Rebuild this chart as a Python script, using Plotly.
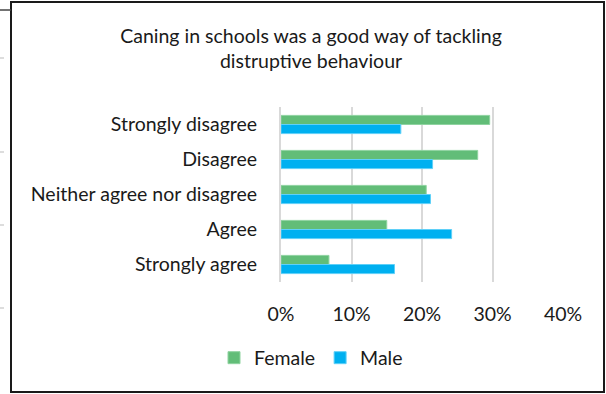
import plotly.graph_objects as go

categories = ["Strongly disagree", "Disagree", "Neither agree nor disagree", "Agree", "Strongly agree"]
female = [0.296, 0.279, 0.206, 0.150, 0.068]
male = [0.170, 0.215, 0.212, 0.242, 0.161]
tick_vals = [0, 0.1, 0.2, 0.3, 0.4]
tick_text = ["0%", "10%", "20%", "30%", "40%"]

FONT = "Lato"
FS = 19.5
L, R, T, B = 281, 43, 107, 112
W, H = 606, 394
pw, ph = W - L - R, H - T - B

def px(x):
    return (x - L) / pw

def py(y):
    return (H - B - y) / ph

fig = go.Figure()
fig.add_trace(go.Bar(y=categories, x=female, orientation="h", name="Female",
                     marker=dict(color="#62BD78", line=dict(color="#8FD3A0", width=1))))
fig.add_trace(go.Bar(y=categories, x=male, orientation="h", name="Male",
                     marker=dict(color="#00B0F0", line=dict(color="#5FD0F8", width=1))))

shapes = [
    dict(type="rect", xref="paper", yref="paper", x0=px(11), x1=px(604), y0=py(392), y1=py(2),
         line=dict(color="#1a1a1a", width=2)),
    dict(type="line", xref="paper", yref="paper", x0=px(0), x1=px(11), y0=py(10), y1=py(10),
         line=dict(color="#444444", width=1.5)),
]
for yy in [58, 152, 225, 308]:
    shapes.append(dict(type="line", xref="paper", yref="paper", x0=px(0), x1=px(4), y0=py(yy), y1=py(yy),
                       line=dict(color="#bbbbbb", width=1)))

fig.update_layout(
    width=W, height=H,
    margin=dict(l=L, r=R, t=T, b=B),
    paper_bgcolor="white", plot_bgcolor="white",
    barmode="group", bargap=0.48, bargroupgap=0,
    font=dict(family=FONT, size=FS, color="#1a1a1a"),
    title=dict(text="Caning in schools was a good way of tackling<br>distruptive behaviour",
               x=px(311), xref="paper", xanchor="center", y=1 - 43 / H, yanchor="top",
               font=dict(family=FONT, size=FS, color="#1a1a1a")),
    xaxis=dict(range=[0, 0.4], tickvals=tick_vals, ticktext=tick_text, showgrid=True,
               gridcolor="#d9d9d9", gridwidth=2, zeroline=False, showline=False,
               ticks="", ticklabelstandoff=18, tickfont=dict(size=FS)),
    yaxis=dict(categoryorder="array", categoryarray=categories, autorange="reversed",
               showgrid=False, zeroline=False, showline=True, linecolor="#d9d9d9", linewidth=2,
               ticks="", ticklabelstandoff=18, tickfont=dict(size=FS)),
    legend=dict(orientation="h", x=px(311), xanchor="center", y=py(358), yanchor="middle",
                font=dict(size=FS), itemwidth=30, traceorder="normal"),
    shapes=shapes,
    showlegend=True,
)

fig.write_html("out.html", config={"displayModeBar": False},
               post_script="document.body.style.margin='0';document.body.style.padding='0';")
